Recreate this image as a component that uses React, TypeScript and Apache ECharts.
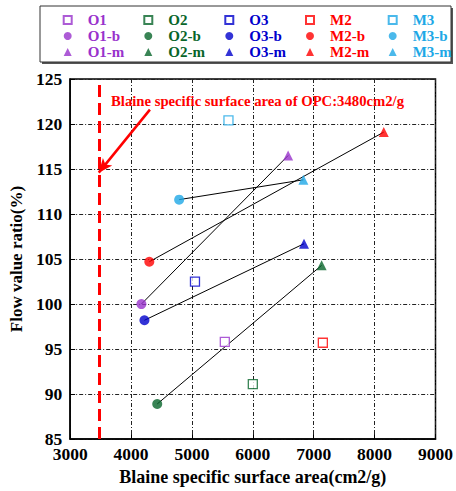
import React, { useEffect, useRef } from "react";
import * as echarts from "echarts";

// Cement groups and their colours
const groups = ["O1", "O2", "O3", "M2", "M3"];
const groupColors = ["#9932CC", "#08652A", "#0000CC", "#FF0000", "#1EA8E6"];

// [Blaine specific surface area (cm2/g), flow value ratio (%)]
const basePoints = [
  [5540, 95.8],
  [6000, 91.1],
  [5050, 102.5],
  [7150, 95.7],
  [5600, 120.4],
];
const bPoints = [
  [4170, 100.0],
  [4430, 88.9],
  [4220, 98.2],
  [4300, 104.7],
  [4790, 111.6],
];
const mPoints = [
  [6580, 116.5],
  [7130, 104.3],
  [6840, 106.7],
  [8150, 119.1],
  [6830, 113.8],
];

// OPC reference fineness and its callout arrow
const opcBlaine = 3480;
const opcLabel = "Blaine specific surface area of OPC:3480cm2/g";
const arrowFrom = [4310, 121.6];
const arrowTo = [3470, 114.6];

const xMin = 3000;
const xMax = 9000;
const xStep = 1000;
const yMin = 85;
const yMax = 125;
const yStep = 5;

const SERIF = "'Liberation Serif', 'Times New Roman', serif";

export default function App() {
  const ref = useRef<HTMLDivElement>(null);

  useEffect(() => {
    if (!ref.current) return;
    document.body.style.margin = "0";
    const chart = echarts.init(ref.current, null, { renderer: "svg" });

    const series: any[] = [];

    // connecting lines from -b to -m
    groups.forEach((g, i) => {
      series.push({
        type: "line",
        name: g + " trend",
        data: [bPoints[i], mPoints[i]],
        symbol: "none",
        silent: true,
        z: 1,
        lineStyle: { color: "#000", width: 1 },
      });
    });

    groups.forEach((g, i) => {
      const c = groupColors[i];
      series.push({
        type: "scatter",
        name: g,
        data: [basePoints[i]],
        symbol: "rect",
        symbolSize: 9,
        z: 3,
        itemStyle: { color: "#fff", borderColor: c, borderWidth: 1.3 },
      });
      series.push({
        type: "scatter",
        name: g + "-b",
        data: [bPoints[i]],
        symbol: "circle",
        symbolSize: 10,
        z: 3,
        itemStyle: { color: c },
      });
      series.push({
        type: "scatter",
        name: g + "-m",
        data: [mPoints[i]],
        symbol: "triangle",
        symbolSize: 10,
        z: 3,
        itemStyle: { color: c },
      });
    });

    // OPC reference line and arrow
    series.push({
      type: "line",
      name: "OPC",
      data: [],
      silent: true,
      z: 2,
      markLine: {
        silent: true,
        animation: false,
        symbol: ["none", "none"],
        label: { show: false },
        data: [
          {
            xAxis: opcBlaine,
            lineStyle: { color: "#FF0000", width: 3, type: [12, 6] },
          },
          [
            {
              coord: arrowFrom,
              symbol: "none",
              lineStyle: { color: "#FF0000", width: 2.5, type: "solid" },
            },
            { coord: arrowTo, symbol: "arrow", symbolSize: [9, 14] },
          ],
        ],
      },
    });

    // one vertical legend per group, icon centres at these x positions
    const legendIconCenters = [66.7, 147.3, 228.3, 309, 391.7];
    const legends = groups.map((g, i) => ({
      orient: "vertical",
      left: legendIconCenters[i] - 4,
      top: 12,
      padding: 0,
      itemGap: 0,
      itemWidth: 8,
      itemHeight: 8,
      textStyle: {
        fontFamily: SERIF,
        fontWeight: "bold",
        fontSize: 15,
        lineHeight: 16,
        padding: [0, 0, 0, 11],
        color: groupColors[i],
      },
      data: [g, g + "-b", g + "-m"].map((n) => ({
        name: n,
        textStyle: { color: groupColors[i] },
      })),
    }));

    const gridLine = { color: "#222", width: 1, type: [4, 2, 1, 2] };
    const labelStyle = {
      fontFamily: SERIF,
      fontWeight: "bold",
      fontSize: 17.5,
      color: "#000",
    };

    chart.setOption({
      animation: false,
      backgroundColor: "#fff",
      legend: legends,
      graphic: [
        {
          type: "rect",
          z: 0,
          shape: { x: 42, y: 8, width: 411, height: 56 },
          style: { fill: "#555", stroke: "none" },
        },
        {
          type: "rect",
          z: 0,
          shape: { x: 40, y: 6, width: 411, height: 56 },
          style: { fill: "#fff", stroke: "#333", lineWidth: 1 },
        },
        {
          type: "text",
          z: 10,
          x: 111,
          y: 101,
          style: {
            text: opcLabel,
            fill: "#FF0000",
            font: "bold 14.7px " + SERIF,
            verticalAlign: "middle",
            align: "left",
          },
        },
      ],
      grid: {
        left: 69,
        right: 19,
        top: 79,
        bottom: 48,
        show: true,
        borderColor: "#000",
        borderWidth: 1.5,
        backgroundColor: "#fff",
      },
      xAxis: {
        type: "value",
        min: xMin,
        max: xMax,
        interval: xStep,
        name: "Blaine specific surface area(cm2/g)",
        nameLocation: "middle",
        nameGap: 25,
        nameTextStyle: { ...labelStyle, fontSize: 18 },
        axisLine: { lineStyle: { color: "#000", width: 1.5 } },
        axisTick: { inside: true, length: 5, lineStyle: { color: "#000" } },
        axisLabel: { ...labelStyle, margin: 6, formatter: (v: number) => String(v) },
        splitLine: { show: true, lineStyle: gridLine },
      },
      yAxis: {
        type: "value",
        min: yMin,
        max: yMax,
        interval: yStep,
        name: "Flow value ratio(%)",
        nameLocation: "middle",
        nameGap: 38,
        nameTextStyle: { ...labelStyle, fontSize: 17 },
        axisLine: { lineStyle: { color: "#000", width: 1.5 } },
        axisTick: { inside: true, length: 5, lineStyle: { color: "#000" } },
        axisLabel: { ...labelStyle, margin: 8, formatter: (v: number) => String(v) },
        splitLine: { show: true, lineStyle: gridLine },
      },
      series,
    });

    return () => chart.dispose();
  }, []);

  return <div ref={ref} style={{ width: 456, height: 491 }} />;
}
